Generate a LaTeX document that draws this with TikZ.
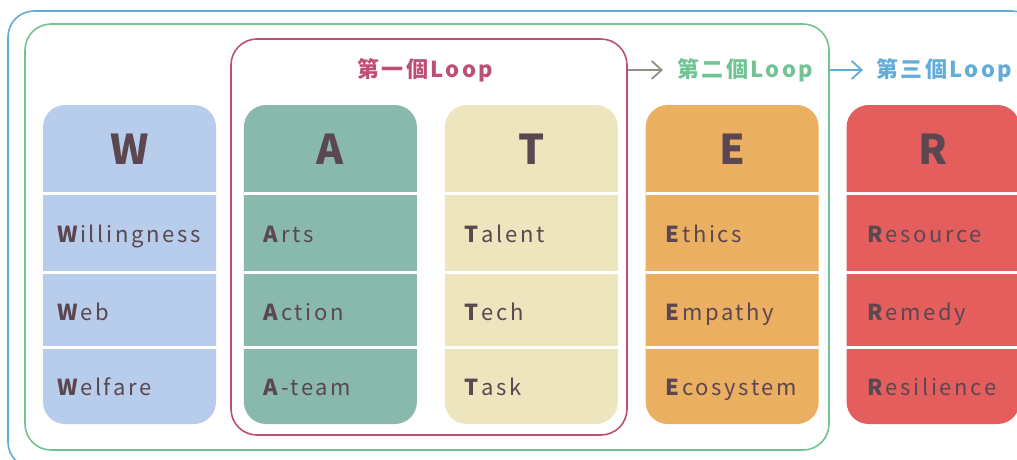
\documentclass[tikz,border=0pt]{standalone}
\usepackage{fontspec}
\setmainfont{Noto Sans CJK TC}
\newfontfamily\spaced[LetterSpace=12]{Noto Sans CJK TC}
\newfontfamily\lblfont[LetterSpace=11]{Noto Sans CJK TC}
\usepackage{tikz}
\usetikzlibrary{arrows.meta}
\usetikzlibrary{positioning}

\definecolor{wblue}{HTML}{B8CDEB}
\definecolor{ateal}{HTML}{89B8AC}
\definecolor{tcream}{HTML}{EDE5BE}
\definecolor{eorange}{HTML}{EBAF62}
\definecolor{rred}{HTML}{E45E5D}
\definecolor{ink}{HTML}{5A4750}
\definecolor{loopone}{HTML}{BD4F75}
\definecolor{looptwo}{HTML}{72C394}
\definecolor{loopthree}{HTML}{62ADD7}

\begin{document}
\begin{tikzpicture}[x=1pt,y=-1pt,
  col/.style={rectangle,rounded corners=22pt,minimum width=173pt,minimum height=319pt,inner sep=0pt},
  head/.style={anchor=base,text=ink,inner sep=0pt,font=\fontsize{41}{41}\selectfont\bfseries},
  item/.style={anchor=base west,text=ink,inner sep=0pt,font=\spaced\fontsize{22}{22}\selectfont},
  sep/.style={white,line width=3pt},
  frame/.style={rectangle,rounded corners=26pt,line width=1.6pt,inner sep=0pt},
  lbl/.style={inner sep=0pt,font=\lblfont\fontsize{22}{22}\selectfont\bfseries},
  arr/.style={-{Straight Barb[length=10pt,width=18pt]},line width=1.8pt}]
\useasboundingbox (0,0) rectangle (1017,459);
\clip (0,0) rectangle (1017,459);
% loops
\node[frame,draw=loopthree,minimum width=1030pt,minimum height=457pt](loop3) at (523,239.5){};
\node[frame,draw=looptwo,minimum width=804pt,minimum height=426pt](loop2) at (427,237){};
\node[frame,draw=loopone,minimum width=396pt,minimum height=396pt](loop1) at (429,237){};
\node[lbl,text=loopone,anchor=west](lbl1) at (357,70){第一個Loop};
\node[lbl,text=looptwo,anchor=west](lbl2) at (677,70){第二個Loop};
\node[lbl,text=loopthree,anchor=west](lbl3) at (876,70){第三個Loop};
\coordinate[left=14pt of lbl2](tip1);
\coordinate[left=13pt of lbl3](tip2);
\draw[arr,draw=looptwo!55!loopone] (loop1.east |- tip1) -- (tip1);
\draw[arr,draw=loopthree] (loop2.east |- tip2) -- (tip2);
% columns
\node[col,fill=wblue](colW) at (129.5,264.5){};
\node[col,fill=ateal,right=27.5pt of colW](colA){};
\node[col,fill=tcream,right=27.5pt of colA](colT){};
\node[col,fill=eorange,right=27.5pt of colT](colE){};
\node[col,fill=rred,right=27.5pt of colE](colR){};
\draw[sep] ([yshift=-88.5pt]colW.north west) -- ([yshift=-88.5pt]colW.north east);
\draw[sep] ([yshift=-167.5pt]colW.north west) -- ([yshift=-167.5pt]colW.north east);
\draw[sep] ([yshift=-242.5pt]colW.north west) -- ([yshift=-242.5pt]colW.north east);
\draw[sep] ([yshift=-88.5pt]colA.north west) -- ([yshift=-88.5pt]colA.north east);
\draw[sep] ([yshift=-167.5pt]colA.north west) -- ([yshift=-167.5pt]colA.north east);
\draw[sep] ([yshift=-242.5pt]colA.north west) -- ([yshift=-242.5pt]colA.north east);
\draw[sep] ([yshift=-88.5pt]colT.north west) -- ([yshift=-88.5pt]colT.north east);
\draw[sep] ([yshift=-167.5pt]colT.north west) -- ([yshift=-167.5pt]colT.north east);
\draw[sep] ([yshift=-242.5pt]colT.north west) -- ([yshift=-242.5pt]colT.north east);
\draw[sep] ([yshift=-88.5pt]colE.north west) -- ([yshift=-88.5pt]colE.north east);
\draw[sep] ([yshift=-167.5pt]colE.north west) -- ([yshift=-167.5pt]colE.north east);
\draw[sep] ([yshift=-242.5pt]colE.north west) -- ([yshift=-242.5pt]colE.north east);
\draw[sep] ([yshift=-88.5pt]colR.north west) -- ([yshift=-88.5pt]colR.north east);
\draw[sep] ([yshift=-167.5pt]colR.north west) -- ([yshift=-167.5pt]colR.north east);
\draw[sep] ([yshift=-242.5pt]colR.north west) -- ([yshift=-242.5pt]colR.north east);
% headers
\node[head](hW) at ([yshift=-60pt]colW.north){W};
\node[head](hA) at ([yshift=-60pt]colA.north){A};
\node[head](hT) at ([yshift=-60pt]colT.north){T};
\node[head](hE) at ([yshift=-60pt]colE.north){E};
\node[head](hR) at ([yshift=-60pt]colR.north){R};
% words
\node[item](w1) at ([xshift=14pt,yshift=-138pt]colW.north west){\textbf{W}illingness};
\node[item](w2) at ([xshift=14pt,yshift=-216pt]colW.north west){\textbf{W}eb};
\node[item](w3) at ([xshift=14pt,yshift=-291pt]colW.north west){\textbf{W}elfare};
\node[item](a1) at ([xshift=20pt,yshift=-138pt]colA.north west){\textbf{A}rts};
\node[item](a2) at ([xshift=20pt,yshift=-216pt]colA.north west){\textbf{A}ction};
\node[item](a3) at ([xshift=20pt,yshift=-291pt]colA.north west){\textbf{A}-team};
\node[item](t1) at ([xshift=20pt,yshift=-138pt]colT.north west){\textbf{T}alent};
\node[item](t2) at ([xshift=20pt,yshift=-216pt]colT.north west){\textbf{T}ech};
\node[item](t3) at ([xshift=20pt,yshift=-291pt]colT.north west){\textbf{T}ask};
\node[item](e1) at ([xshift=20pt,yshift=-138pt]colE.north west){\textbf{E}thics};
\node[item](e2) at ([xshift=20pt,yshift=-216pt]colE.north west){\textbf{E}mpathy};
\node[item](e3) at ([xshift=20pt,yshift=-291pt]colE.north west){\textbf{E}cosystem};
\node[item](r1) at ([xshift=21pt,yshift=-138pt]colR.north west){\textbf{R}esource};
\node[item](r2) at ([xshift=21pt,yshift=-216pt]colR.north west){\textbf{R}emedy};
\node[item](r3) at ([xshift=21pt,yshift=-291pt]colR.north west){\textbf{R}esilience};
\end{tikzpicture}
\end{document}
